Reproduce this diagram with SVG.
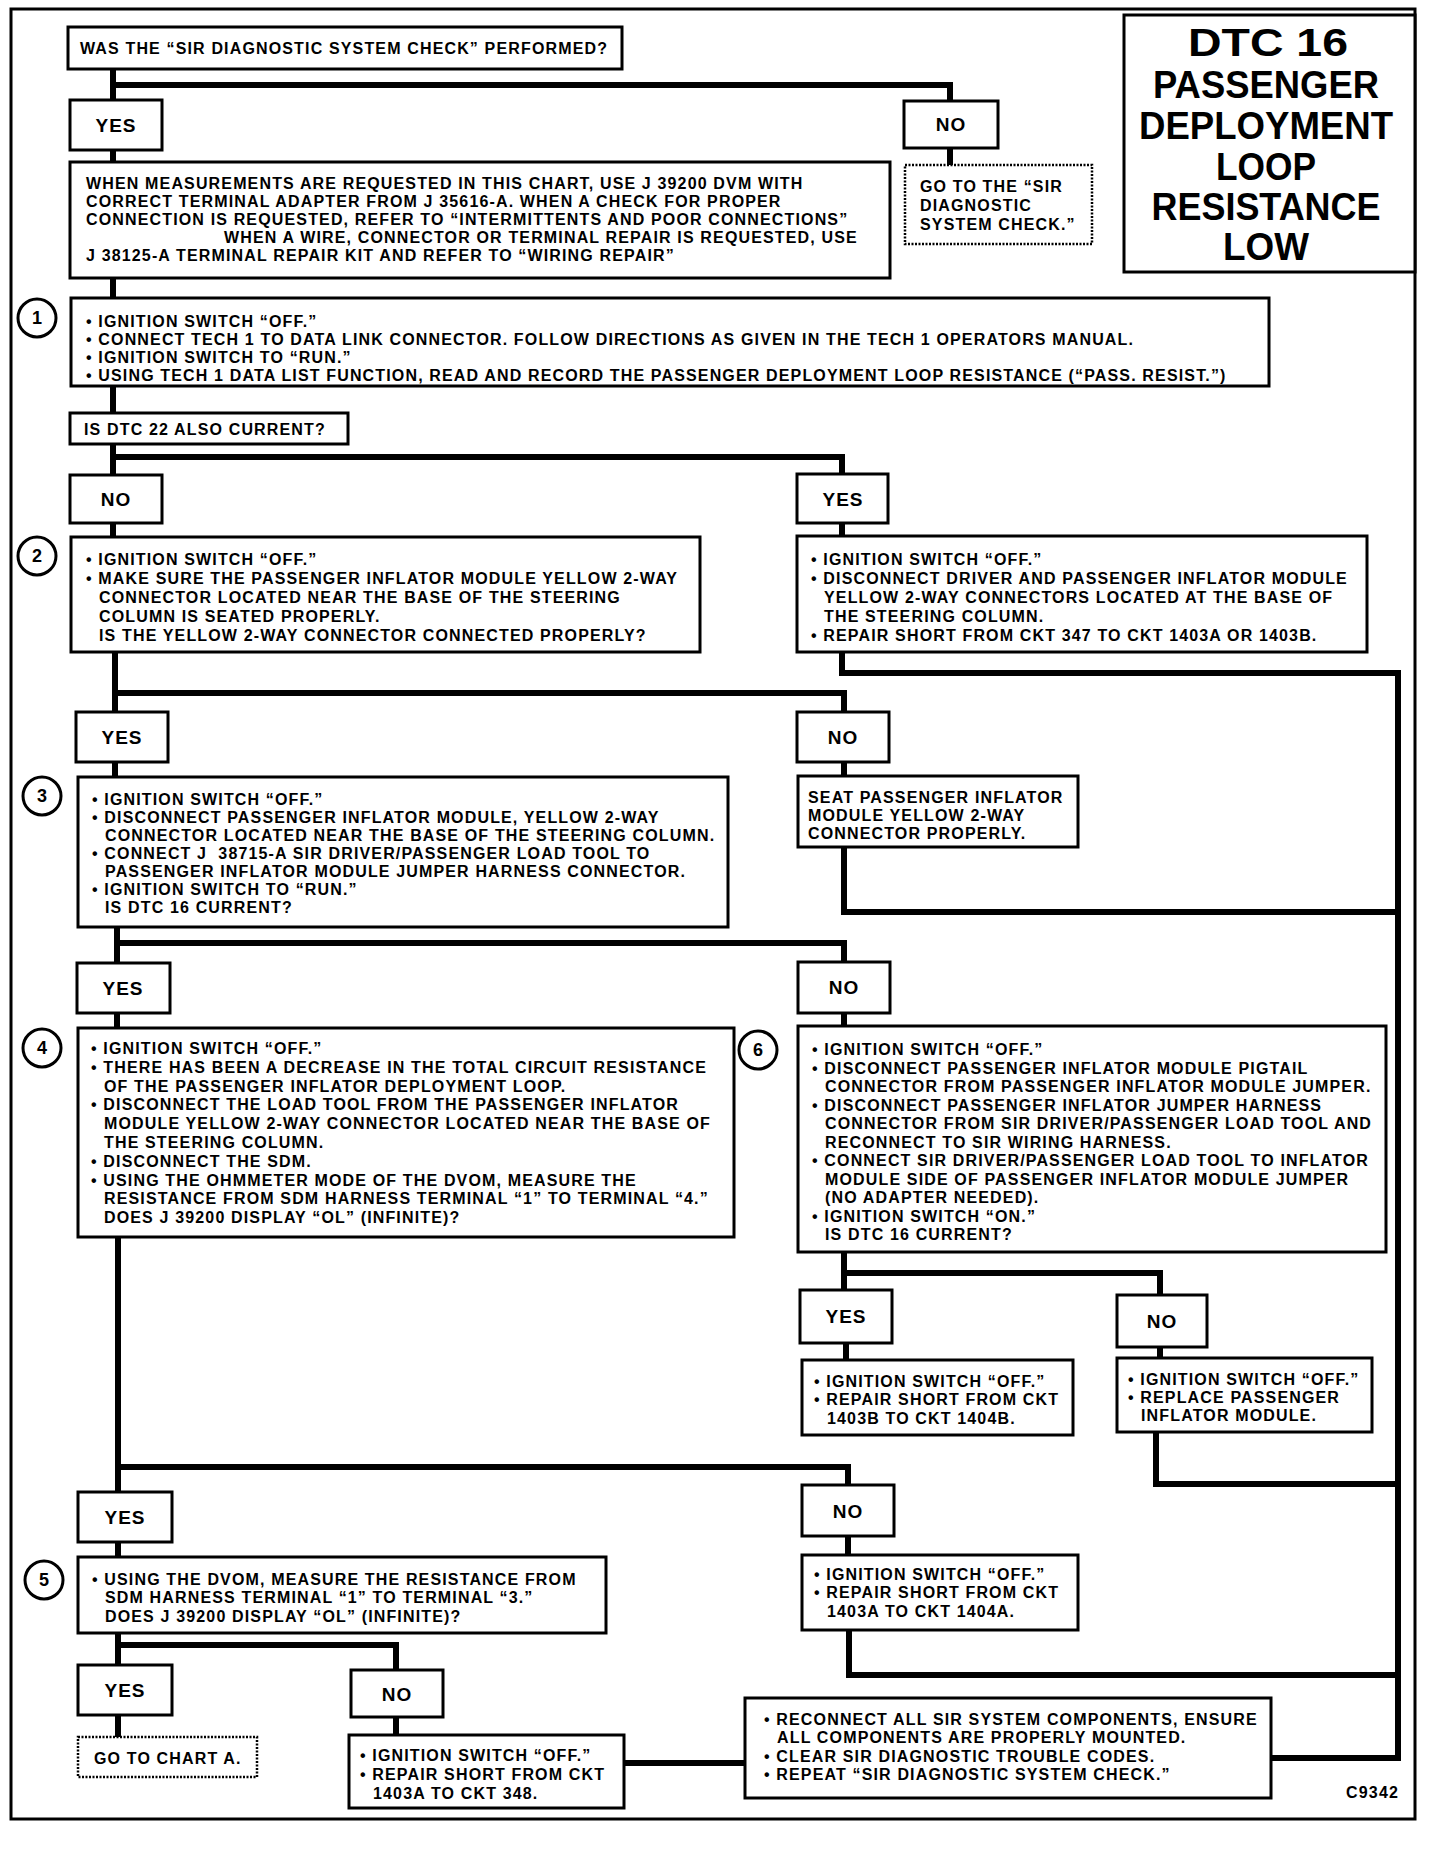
<svg xmlns="http://www.w3.org/2000/svg" width="1440" height="1850" viewBox="0 0 1440 1850">
<style>
.b{fill:#fff;stroke:#000;stroke-width:3}
.d{fill:#fff;stroke:#000;stroke-width:2.5;stroke-dasharray:2 1.5}
.c{fill:none;stroke:#000;stroke-width:6;stroke-linejoin:miter;stroke-linecap:butt}
.t{font-family:"Liberation Sans",Arial,sans-serif;font-weight:bold;font-size:16px;letter-spacing:1.15px;fill:#000}
.l{font-family:"Liberation Sans",Arial,sans-serif;font-weight:bold;font-size:19px;letter-spacing:1px;text-anchor:middle;fill:#000}
.n{font-family:"Liberation Sans",Arial,sans-serif;font-weight:bold;font-size:18px;text-anchor:middle;fill:#000}
.h{font-family:"Liberation Sans",Arial,sans-serif;font-weight:bold;font-size:38px;text-anchor:middle;fill:#000}
.ci{fill:#fff;stroke:#000;stroke-width:3}
</style>
<rect width="1440" height="1850" fill="#fff"/>
<rect x="11" y="9" width="1404" height="1810" fill="none" stroke="#000" stroke-width="3"/>
<g id="title">
<rect x="1124" y="15" width="291" height="257" fill="#fff" stroke="#000" stroke-width="3"/>
<text class="h" x="1268" y="56" font-size="44" textLength="160" lengthAdjust="spacingAndGlyphs">DTC 16</text>
<text class="h" x="1266" y="98" textLength="226" lengthAdjust="spacingAndGlyphs">PASSENGER</text>
<text class="h" x="1266" y="139" textLength="254" lengthAdjust="spacingAndGlyphs">DEPLOYMENT</text>
<text class="h" x="1266" y="180" textLength="100" lengthAdjust="spacingAndGlyphs">LOOP</text>
<text class="h" x="1266" y="220" textLength="229" lengthAdjust="spacingAndGlyphs">RESISTANCE</text>
<text class="h" x="1266" y="260" textLength="86" lengthAdjust="spacingAndGlyphs">LOW</text>
</g>
<g id="connectors">
<polyline class="c" points="113,69 113,100"/>
<polyline class="c" points="113,85 950,85 950,101"/>
<polyline class="c" points="113,150 113,163"/>
<polyline class="c" points="950,148 950,165"/>
<polyline class="c" points="113,278 113,298"/>
<polyline class="c" points="113,386 113,413"/>
<polyline class="c" points="113,444 113,475"/>
<polyline class="c" points="113,457 842,457 842,474"/>
<polyline class="c" points="113,523 113,537"/>
<polyline class="c" points="842,523 842,536"/>
<polyline class="c" points="842,652 842,673 1398,673 1398,1758 1271,1758"/>
<polyline class="c" points="115,652 115,712"/>
<polyline class="c" points="115,693 844,693 844,712"/>
<polyline class="c" points="115,762 115,777"/>
<polyline class="c" points="844,762 844,776"/>
<polyline class="c" points="844,847 844,912 1398,912"/>
<polyline class="c" points="117,927 117,963"/>
<polyline class="c" points="117,943 844,943 844,962"/>
<polyline class="c" points="117,1013 117,1028"/>
<polyline class="c" points="844,1013 844,1026"/>
<polyline class="c" points="844,1252 844,1290"/>
<polyline class="c" points="844,1273 1160,1273 1160,1295"/>
<polyline class="c" points="846,1343 846,1360"/>
<polyline class="c" points="1160,1347 1160,1358"/>
<polyline class="c" points="1156,1432 1156,1484 1398,1484"/>
<polyline class="c" points="118,1237 118,1492"/>
<polyline class="c" points="118,1467 848,1467 848,1485"/>
<polyline class="c" points="118,1542 118,1557"/>
<polyline class="c" points="848,1536 848,1555"/>
<polyline class="c" points="849,1630 849,1675 1398,1675"/>
<polyline class="c" points="118,1633 118,1665"/>
<polyline class="c" points="118,1645 396,1645 396,1670"/>
<polyline class="c" points="118,1715 118,1737"/>
<polyline class="c" points="396,1717 396,1735"/>
<polyline class="c" points="624,1763 745,1763"/>
</g>
<g id="q0"><rect class="b" x="68" y="27" width="554" height="42"/>
<text class="t" x="80" y="54">WAS THE “SIR DIAGNOSTIC SYSTEM CHECK” PERFORMED?</text></g>
<g id="yes1"><rect class="b" x="70" y="100" width="92" height="50"/><text class="l" x="116" y="132">YES</text></g>
<g id="no1"><rect class="b" x="904" y="101" width="94" height="47"/><text class="l" x="951" y="131">NO</text></g>
<g id="goto-check"><rect class="d" x="905" y="165" width="187" height="79"/>
<text class="t" x="920" y="192">GO TO THE “SIR</text>
<text class="t" x="920" y="211">DIAGNOSTIC</text>
<text class="t" x="920" y="230">SYSTEM CHECK.”</text></g>
<g id="info"><rect class="b" x="70" y="162" width="820" height="116"/>
<text class="t" x="86" y="189">WHEN MEASUREMENTS ARE REQUESTED IN THIS CHART, USE J 39200 DVM WITH</text>
<text class="t" x="86" y="207">CORRECT TERMINAL ADAPTER FROM J 35616-A. WHEN A CHECK FOR PROPER</text>
<text class="t" x="86" y="225">CONNECTION IS REQUESTED, REFER TO “INTERMITTENTS AND POOR CONNECTIONS”</text>
<text class="t" x="224" y="243">WHEN A WIRE, CONNECTOR OR TERMINAL REPAIR IS REQUESTED, USE</text>
<text class="t" x="86" y="261">J 38125-A TERMINAL REPAIR KIT AND REFER TO “WIRING REPAIR”</text></g>
<g id="step1"><circle class="ci" cx="37" cy="318" r="19"/><text class="n" x="37" y="324">1</text>
<rect class="b" x="71" y="298" width="1198" height="88"/>
<text class="t" x="86" y="327">• IGNITION SWITCH “OFF.”</text>
<text class="t" x="86" y="345">• CONNECT TECH 1 TO DATA LINK CONNECTOR. FOLLOW DIRECTIONS AS GIVEN IN THE TECH 1 OPERATORS MANUAL.</text>
<text class="t" x="86" y="363">• IGNITION SWITCH TO “RUN.”</text>
<text class="t" x="86" y="381">• USING TECH 1 DATA LIST FUNCTION, READ AND RECORD THE PASSENGER DEPLOYMENT LOOP RESISTANCE (“PASS. RESIST.”)</text></g>
<g id="q22"><rect class="b" x="70" y="413" width="278" height="31"/><text class="t" x="84" y="435">IS DTC 22 ALSO CURRENT?</text></g>
<g id="no2"><rect class="b" x="70" y="475" width="92" height="48"/><text class="l" x="116" y="506">NO</text></g>
<g id="yes2"><rect class="b" x="797" y="474" width="91" height="49"/><text class="l" x="843" y="506">YES</text></g>
<g id="step2"><circle class="ci" cx="37" cy="556" r="19"/><text class="n" x="37" y="562">2</text>
<rect class="b" x="71" y="537" width="629" height="115"/>
<text class="t" x="86" y="565">• IGNITION SWITCH “OFF.”</text>
<text class="t" x="86" y="584">• MAKE SURE THE PASSENGER INFLATOR MODULE YELLOW 2-WAY</text>
<text class="t" x="99" y="603">CONNECTOR LOCATED NEAR THE BASE OF THE STEERING</text>
<text class="t" x="99" y="622">COLUMN IS SEATED PROPERLY.</text>
<text class="t" x="99" y="641">IS THE YELLOW 2-WAY CONNECTOR CONNECTED PROPERLY?</text></g>
<g id="repair347"><rect class="b" x="797" y="536" width="570" height="116"/>
<text class="t" x="811" y="565">• IGNITION SWITCH “OFF.”</text>
<text class="t" x="811" y="584">• DISCONNECT DRIVER AND PASSENGER INFLATOR MODULE</text>
<text class="t" x="824" y="603">YELLOW 2-WAY CONNECTORS LOCATED AT THE BASE OF</text>
<text class="t" x="824" y="622">THE STEERING COLUMN.</text>
<text class="t" x="811" y="641">• REPAIR SHORT FROM CKT 347 TO CKT 1403A OR 1403B.</text></g>
<g id="yes3"><rect class="b" x="76" y="712" width="92" height="50"/><text class="l" x="122" y="744">YES</text></g>
<g id="no3"><rect class="b" x="797" y="712" width="92" height="50"/><text class="l" x="843" y="744">NO</text></g>
<g id="step3"><circle class="ci" cx="42" cy="796" r="19"/><text class="n" x="42" y="802">3</text>
<rect class="b" x="78" y="777" width="650" height="150"/>
<text class="t" x="92" y="805">• IGNITION SWITCH “OFF.”</text>
<text class="t" x="92" y="823">• DISCONNECT PASSENGER INFLATOR MODULE, YELLOW 2-WAY</text>
<text class="t" x="105" y="841">CONNECTOR LOCATED NEAR THE BASE OF THE STEERING COLUMN.</text>
<text class="t" x="92" y="859">• CONNECT J &#160;38715-A SIR DRIVER/PASSENGER LOAD TOOL TO</text>
<text class="t" x="105" y="877">PASSENGER INFLATOR MODULE JUMPER HARNESS CONNECTOR.</text>
<text class="t" x="92" y="895">• IGNITION SWITCH TO “RUN.”</text>
<text class="t" x="105" y="913">IS DTC 16 CURRENT?</text></g>
<g id="seat"><rect class="b" x="798" y="776" width="280" height="71"/>
<text class="t" x="808" y="803">SEAT PASSENGER INFLATOR</text>
<text class="t" x="808" y="821">MODULE YELLOW 2-WAY</text>
<text class="t" x="808" y="839">CONNECTOR PROPERLY.</text></g>
<g id="yes4"><rect class="b" x="77" y="963" width="93" height="50"/><text class="l" x="123" y="995">YES</text></g>
<g id="no4"><rect class="b" x="798" y="962" width="92" height="51"/><text class="l" x="844" y="994">NO</text></g>
<g id="step4"><circle class="ci" cx="42" cy="1048" r="19"/><text class="n" x="42" y="1054">4</text>
<rect class="b" x="78" y="1028" width="656" height="209"/>
<text class="t" x="91" y="1054">• IGNITION SWITCH “OFF.”</text>
<text class="t" x="91" y="1073">• THERE HAS BEEN A DECREASE IN THE TOTAL CIRCUIT RESISTANCE</text>
<text class="t" x="104" y="1092">OF THE PASSENGER INFLATOR DEPLOYMENT LOOP.</text>
<text class="t" x="91" y="1110">• DISCONNECT THE LOAD TOOL FROM THE PASSENGER INFLATOR</text>
<text class="t" x="104" y="1129">MODULE YELLOW 2-WAY CONNECTOR LOCATED NEAR THE BASE OF</text>
<text class="t" x="104" y="1148">THE STEERING COLUMN.</text>
<text class="t" x="91" y="1167">• DISCONNECT THE SDM.</text>
<text class="t" x="91" y="1186">• USING THE OHMMETER MODE OF THE DVOM, MEASURE THE</text>
<text class="t" x="104" y="1204">RESISTANCE FROM SDM HARNESS TERMINAL “1” TO TERMINAL “4.”</text>
<text class="t" x="104" y="1223">DOES J 39200 DISPLAY “OL” (INFINITE)?</text></g>
<g id="step6"><circle class="ci" cx="758" cy="1050" r="19"/><text class="n" x="758" y="1056">6</text>
<rect class="b" x="798" y="1026" width="588" height="226"/>
<text class="t" x="812" y="1055">• IGNITION SWITCH “OFF.”</text>
<text class="t" x="812" y="1073.5">• DISCONNECT PASSENGER INFLATOR MODULE PIGTAIL</text>
<text class="t" x="825" y="1092">CONNECTOR FROM PASSENGER INFLATOR MODULE JUMPER.</text>
<text class="t" x="812" y="1110.5">• DISCONNECT PASSENGER INFLATOR JUMPER HARNESS</text>
<text class="t" x="825" y="1129">CONNECTOR FROM SIR DRIVER/PASSENGER LOAD TOOL AND</text>
<text class="t" x="825" y="1147.5">RECONNECT TO SIR WIRING HARNESS.</text>
<text class="t" x="812" y="1166">• CONNECT SIR DRIVER/PASSENGER LOAD TOOL TO INFLATOR</text>
<text class="t" x="825" y="1184.5">MODULE SIDE OF PASSENGER INFLATOR MODULE JUMPER</text>
<text class="t" x="825" y="1203">(NO ADAPTER NEEDED).</text>
<text class="t" x="812" y="1221.5">• IGNITION SWITCH “ON.”</text>
<text class="t" x="825" y="1240">IS DTC 16 CURRENT?</text></g>
<g id="yes6"><rect class="b" x="800" y="1290" width="92" height="53"/><text class="l" x="846" y="1323">YES</text></g>
<g id="no6"><rect class="b" x="1117" y="1295" width="90" height="52"/><text class="l" x="1162" y="1328">NO</text></g>
<g id="repair1403b"><rect class="b" x="802" y="1360" width="271" height="75"/>
<text class="t" x="814" y="1387">• IGNITION SWITCH “OFF.”</text>
<text class="t" x="814" y="1405">• REPAIR SHORT FROM CKT</text>
<text class="t" x="827" y="1424">1403B TO CKT 1404B.</text></g>
<g id="replace"><rect class="b" x="1117" y="1358" width="255" height="74"/>
<text class="t" x="1128" y="1385">• IGNITION SWITCH “OFF.”</text>
<text class="t" x="1128" y="1403">• REPLACE PASSENGER</text>
<text class="t" x="1141" y="1421">INFLATOR MODULE.</text></g>
<g id="yes5"><rect class="b" x="78" y="1492" width="94" height="50"/><text class="l" x="125" y="1524">YES</text></g>
<g id="no5"><rect class="b" x="802" y="1485" width="92" height="51"/><text class="l" x="848" y="1518">NO</text></g>
<g id="step5"><circle class="ci" cx="44" cy="1580" r="19"/><text class="n" x="44" y="1586">5</text>
<rect class="b" x="78" y="1557" width="528" height="76"/>
<text class="t" x="92" y="1585">• USING THE DVOM, MEASURE THE RESISTANCE FROM</text>
<text class="t" x="105" y="1603">SDM HARNESS TERMINAL “1” TO TERMINAL “3.”</text>
<text class="t" x="105" y="1622">DOES J 39200 DISPLAY “OL” (INFINITE)?</text></g>
<g id="repair1403a"><rect class="b" x="802" y="1555" width="276" height="75"/>
<text class="t" x="814" y="1580">• IGNITION SWITCH “OFF.”</text>
<text class="t" x="814" y="1598">• REPAIR SHORT FROM CKT</text>
<text class="t" x="827" y="1617">1403A TO CKT 1404A.</text></g>
<g id="yes7"><rect class="b" x="78" y="1665" width="94" height="50"/><text class="l" x="125" y="1697">YES</text></g>
<g id="no7"><rect class="b" x="351" y="1670" width="92" height="47"/><text class="l" x="397" y="1701">NO</text></g>
<g id="goto-a"><rect class="d" x="78" y="1737" width="179" height="40"/><text class="t" x="94" y="1764">GO TO CHART A.</text></g>
<g id="repair348"><rect class="b" x="349" y="1735" width="275" height="73"/>
<text class="t" x="360" y="1761">• IGNITION SWITCH “OFF.”</text>
<text class="t" x="360" y="1780">• REPAIR SHORT FROM CKT</text>
<text class="t" x="373" y="1799">1403A TO CKT 348.</text></g>
<g id="final"><rect class="b" x="745" y="1698" width="526" height="100"/>
<text class="t" x="764" y="1725">• RECONNECT ALL SIR SYSTEM COMPONENTS, ENSURE</text>
<text class="t" x="777" y="1743">ALL COMPONENTS ARE PROPERLY MOUNTED.</text>
<text class="t" x="764" y="1762">• CLEAR SIR DIAGNOSTIC TROUBLE CODES.</text>
<text class="t" x="764" y="1780">• REPEAT “SIR DIAGNOSTIC SYSTEM CHECK.”</text></g>
<text class="t" x="1399" y="1798" font-size="17" text-anchor="end" letter-spacing="1">C9342</text>
</svg>
